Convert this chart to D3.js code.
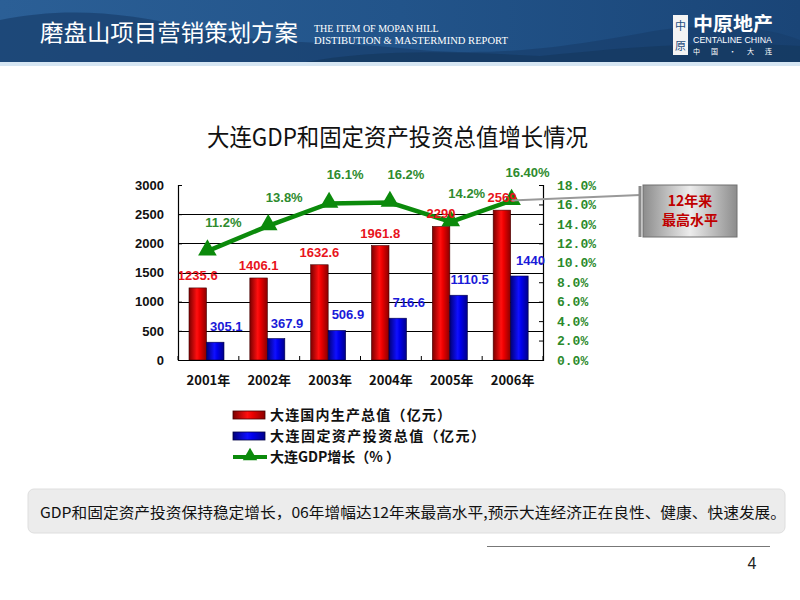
<!DOCTYPE html>
<html>
<head>
<meta charset="utf-8">
<script src="https://cdn.jsdelivr.net/npm/d3@7"></script>
<style>
  body { margin: 0; background: #fff; }
  svg { display: block; }
</style>
</head>
<body>
<div id="chart"></div>
<script>
// data
const years = ["2001年", "2002年", "2003年", "2004年", "2005年", "2006年"];
const gdp = [1235.6, 1406.1, 1632.6, 1961.8, 2290, 2569];
const invest = [305.1, 367.9, 506.9, 716.6, 1110.5, 1440];
const growth = [11.2, 13.8, 16.1, 16.2, 14.2, 16.4];
const growthLabels = ["11.2%", "13.8%", "16.1%", "16.2%", "14.2%", "16.40%"];
const leftTicks = [0, 500, 1000, 1500, 2000, 2500, 3000];
const rightTicks = [0, 2, 4, 6, 8, 10, 12, 14, 16, 18];
const legendLabels = ["大连国内生产总值（亿元）", "大连固定资产投资总值（亿元）", "大连GDP增长（%  ）"];

const W = 800, H = 600;
const svg = d3.select("#chart").append("svg").attr("width", W).attr("height", H);
const defs = svg.append("defs");

function hGrad(id, stops, vertical) {
  const g = defs.append("linearGradient").attr("id", id)
    .attr("x1", 0).attr("y1", 0).attr("x2", vertical ? 0 : 1).attr("y2", vertical ? 1 : 0);
  stops.forEach(([o, c]) => g.append("stop").attr("offset", o).attr("stop-color", c));
}
hGrad("redBar", [[0, "#7a0000"], [0.45, "#ff1010"], [0.6, "#ee0000"], [1, "#8a0000"]]);
hGrad("blueBar", [[0, "#00007a"], [0.45, "#1010ff"], [0.6, "#0000ee"], [1, "#00008a"]]);
hGrad("banner", [[0, "#2b5f96"], [0.5, "#22548a"], [1, "#1a4577"]]);
hGrad("callout", [[0, "#8c8c8c"], [0.5, "#ececec"], [1, "#8c8c8c"]]);
hGrad("titleLine", [[0, "#6a6a6a"], [1, "#8a8a8a"]]);

//## Header banner
svg.append("rect").attr("width", W).attr("height", 63).attr("fill", "url(#banner)");
svg.append("path")
  .attr("d", "M0,20 C60,8 120,10 200,30 C260,45 330,40 420,50 C520,58 600,40 660,30 C720,22 770,28 800,40 L800,63 L0,63 Z")
  .attr("fill", "#183f6c").attr("opacity", 0.7);
svg.append("path")
  .attr("d", "M300,63 C380,48 460,52 540,56 C620,48 700,40 800,46 L800,63 Z")
  .attr("fill", "#153962").attr("opacity", 0.8);
svg.append("rect").attr("y", 62).attr("width", W).attr("height", 4).attr("fill", "#d6e6f3");

svg.append("text").attr("x", 40).attr("y", 41)
  .attr("font-family", "Noto Sans CJK SC").attr("font-size", 23).attr("fill", "#fff")
  .attr("textLength", 258).attr("lengthAdjust", "spacingAndGlyphs")
  .text("磨盘山项目营销策划方案");
svg.append("text").attr("x", 314).attr("y", 32)
  .attr("font-family", "Liberation Serif").attr("font-size", 10).attr("fill", "#fff")
  .text("THE ITEM OF MOPAN HILL");
svg.append("text").attr("x", 314).attr("y", 44)
  .attr("font-family", "Liberation Serif").attr("font-size", 10).attr("fill", "#fff")
  .attr("textLength", 194).attr("lengthAdjust", "spacingAndGlyphs")
  .text("DISTIBUTION & MASTERMIND REPORT");

// logo
svg.append("rect").attr("x", 673).attr("y", 15).attr("width", 15).attr("height", 40).attr("fill", "#f4f4f4");
svg.append("text").attr("x", 680.5).attr("y", 30).attr("text-anchor", "middle")
  .attr("font-family", "Noto Sans CJK SC").attr("font-size", 11).attr("fill", "#1d4d80").text("中");
svg.append("text").attr("x", 680.5).attr("y", 50).attr("text-anchor", "middle")
  .attr("font-family", "Noto Sans CJK SC").attr("font-size", 11).attr("fill", "#1d4d80").text("原");
svg.append("text").attr("x", 693).attr("y", 31)
  .attr("font-family", "Noto Sans CJK SC").attr("font-weight", "bold").attr("font-size", 19).attr("fill", "#fff")
  .attr("textLength", 80).attr("lengthAdjust", "spacingAndGlyphs").text("中原地产");
svg.append("text").attr("x", 693).attr("y", 43)
  .attr("font-family", "Liberation Sans").attr("font-size", 9).attr("fill", "#fff")
  .attr("textLength", 79).attr("lengthAdjust", "spacingAndGlyphs").text("CENTALINE CHINA");
svg.append("text").attr("x", 693).attr("y", 54)
  .attr("font-family", "Noto Sans CJK SC").attr("font-size", 7).attr("fill", "#fff")
  .attr("textLength", 79).attr("lengthAdjust", "spacing").text("中 国 · 大 连");

//## Title
svg.append("text").attr("x", 207).attr("y", 146)
  .attr("font-family", "Noto Sans CJK SC").attr("font-size", 24).attr("fill", "#111")
  .attr("textLength", 381).attr("lengthAdjust", "spacingAndGlyphs")
  .text("大连GDP和固定资产投资总值增长情况");
svg.append("line").attr("x1", 170).attr("x2", 772).attr("y1", 155.5).attr("y2", 155.5)
  .attr("stroke", "url(#titleLine)").attr("stroke-width", 1.5);

//## Chart
const x = d3.scaleBand().domain(years).range([178, 543]);
const x1 = d3.scaleBand().domain(["gdp", "inv"]).range([11, 46]);
const yL = d3.scaleLinear().domain([0, 3000]).range([360, 185]);
const yR = d3.scaleLinear().domain([0, 18]).range([360, 185]);
const bw = x.bandwidth();

const chart = svg.append("g");

// gridlines
chart.append("g").selectAll("line").data(leftTicks.filter(d => d > 0 && d < 3000)).join("line")
  .attr("x1", 178).attr("x2", 543)
  .attr("y1", d => Math.round(yL(d)) + 0.5).attr("y2", d => Math.round(yL(d)) + 0.5)
  .attr("stroke", "#000").attr("stroke-width", 1);

// bars
const rows = years.map((y, i) => ({ year: y, gdp: gdp[i], inv: invest[i], g: growth[i], gl: growthLabels[i] }));
chart.append("g").selectAll("rect").data(rows).join("rect")
  .attr("x", d => x(d.year) + x1("gdp")).attr("width", x1.bandwidth())
  .attr("y", d => yL(d.gdp)).attr("height", d => yL(0) - yL(d.gdp))
  .attr("fill", "url(#redBar)").attr("stroke", "#400").attr("stroke-width", 0.6);
chart.append("g").selectAll("rect").data(rows).join("rect")
  .attr("x", d => x(d.year) + x1("inv")).attr("width", x1.bandwidth())
  .attr("y", d => yL(d.inv)).attr("height", d => yL(0) - yL(d.inv))
  .attr("fill", "url(#blueBar)").attr("stroke", "#004").attr("stroke-width", 0.6);

// axes
const axL = chart.append("g").attr("transform", "translate(178,0)")
  .call(d3.axisLeft(yL).tickValues(leftTicks).tickSize(-4).tickPadding(14).tickFormat(d3.format("d")));
const axR = chart.append("g").attr("transform", "translate(543,0)")
  .call(d3.axisRight(yR).tickValues(rightTicks).tickSize(-4).tickPadding(14).tickFormat(d => d.toFixed(1) + "%"));
const axB = chart.append("g").attr("transform", "translate(0,360)")
  .call(d3.axisBottom(x).tickSize(0).tickPadding(16));
[axL, axR, axB].forEach(a => {
  a.selectAll("path.domain").attr("stroke", "#000").attr("stroke-width", 1.2);
  a.selectAll(".tick line").attr("stroke", "#000");
});
axL.selectAll("text").attr("font-family", "Liberation Sans").attr("font-weight", "bold")
  .attr("font-size", 13).attr("fill", "#111");
axR.selectAll("text").attr("font-family", "Liberation Mono").attr("font-weight", "bold")
  .attr("font-size", 13).attr("fill", "#2b8a2b");
axB.selectAll("text").attr("font-family", "Noto Sans CJK SC").attr("font-weight", "bold")
  .attr("font-size", 13).attr("fill", "#111");
// category separator ticks (pointing up)
chart.append("g").selectAll("line").data(d3.range(years.length + 1)).join("line")
  .attr("x1", i => 178 + i * bw).attr("x2", i => 178 + i * bw)
  .attr("y1", 356).attr("y2", 360).attr("stroke", "#000");

// line
const px = d => x(d.year) + bw / 2 - 1;
chart.append("path").datum(rows)
  .attr("d", d3.line().x(px).y(d => yR(d.g)))
  .attr("fill", "none").attr("stroke", "#0b8a0b").attr("stroke-width", 4.5);

// callout connector
const last = rows[rows.length - 1];
svg.append("line").attr("x1", px(last)).attr("y1", yR(last.g))
  .attr("x2", 640).attr("y2", 195).attr("stroke", "#999").attr("stroke-width", 2);

const tri = d3.symbol().type(d3.symbolTriangle).size(150);
chart.append("g").selectAll("path").data(rows).join("path")
  .attr("transform", d => `translate(${px(d)},${yR(d.g) - 1})`)
  .attr("d", tri).attr("fill", "#0b8a0b");

// value labels
const lbl = (sel) => sel.attr("font-family", "Liberation Sans").attr("font-weight", "bold")
  .attr("font-size", 13).attr("text-anchor", "middle");
chart.append("g").selectAll("text").data(rows).join("text").call(lbl)
  .attr("x", d => x(d.year) + x1("gdp") + x1.bandwidth() / 2)
  .attr("y", d => yL(d.gdp) - 8)
  .attr("fill", "#e8141c").text(d => d.gdp);
chart.append("g").selectAll("text").data(rows).join("text").call(lbl)
  .attr("x", d => x(d.year) + x1("inv") + x1.bandwidth() / 2 + 11)
  .attr("y", d => yL(d.inv) - 11)
  .attr("fill", "#1a1ad8").text(d => d.inv);
chart.append("g").selectAll("text").data(rows).join("text").call(lbl)
  .attr("x", d => px(d) + 16)
  .attr("y", d => yR(d.g) - 24)
  .attr("fill", "#2e8b2e").text(d => d.gl);

// callout box
svg.append("line").attr("x1", 640).attr("x2", 640).attr("y1", 186).attr("y2", 237)
  .attr("stroke", "#8a8a8a").attr("stroke-width", 3);
svg.append("rect").attr("x", 643).attr("y", 185).attr("width", 94).attr("height", 52)
  .attr("fill", "url(#callout)").attr("stroke", "#707070").attr("stroke-width", 1);
["12年来", "最高水平"].forEach((t, i) => {
  svg.append("text").attr("x", 690).attr("y", 206 + i * 19).attr("text-anchor", "middle")
    .attr("font-family", "Noto Sans CJK SC").attr("font-weight", "bold").attr("font-size", 14)
    .attr("fill", "#c00000").text(t);
});

//## Legend
const legWidths = [181, 215, 130];
const leg = svg.append("g").attr("transform", "translate(233,415)");
const legRows = leg.selectAll("g").data(legendLabels).join("g")
  .attr("transform", (d, i) => `translate(0,${i * 21})`);
legRows.filter((d, i) => i < 2).append("rect")
  .attr("y", -4).attr("width", 32).attr("height", 8)
  .attr("fill", (d, i) => i === 0 ? "url(#redBar)" : "url(#blueBar)")
  .attr("stroke", (d, i) => i === 0 ? "#400" : "#004").attr("stroke-width", 0.8);
legRows.filter((d, i) => i === 2).append("line")
  .attr("x1", 0).attr("x2", 34).attr("stroke", "#0b8a0b").attr("stroke-width", 4);
legRows.filter((d, i) => i === 2).append("path")
  .attr("transform", "translate(17,-1)").attr("d", d3.symbol().type(d3.symbolTriangle).size(90)).attr("fill", "#0b8a0b");
legRows.append("text").attr("x", 37).attr("y", 5)
  .attr("font-family", "Noto Sans CJK SC").attr("font-weight", "bold").attr("font-size", 14)
  .attr("fill", "#111")
  .attr("textLength", (d, i) => legWidths[i]).attr("lengthAdjust", "spacing")
  .text(d => d);

//## Note box
svg.append("rect").attr("x", 28).attr("y", 489).attr("width", 757).attr("height", 44).attr("rx", 6)
  .attr("fill", "#ececec").attr("stroke", "#dedede");
svg.append("text").attr("x", 40).attr("y", 518)
  .attr("font-family", "Noto Sans CJK SC").attr("font-size", 15).attr("fill", "#111")
  .attr("textLength", 746).attr("lengthAdjust", "spacingAndGlyphs")
  .text("GDP和固定资产投资保持稳定增长，06年增幅达12年来最高水平,预示大连经济正在良性、健康、快速发展。");

svg.append("line").attr("x1", 487).attr("x2", 770).attr("y1", 546.5).attr("y2", 546.5)
  .attr("stroke", "#777").attr("stroke-width", 1);
svg.append("text").attr("x", 752).attr("y", 569).attr("text-anchor", "middle")
  .attr("font-family", "Liberation Sans Narrow, Liberation Sans").attr("font-size", 16).attr("fill", "#222").text("4");
</script>
</body>
</html>
